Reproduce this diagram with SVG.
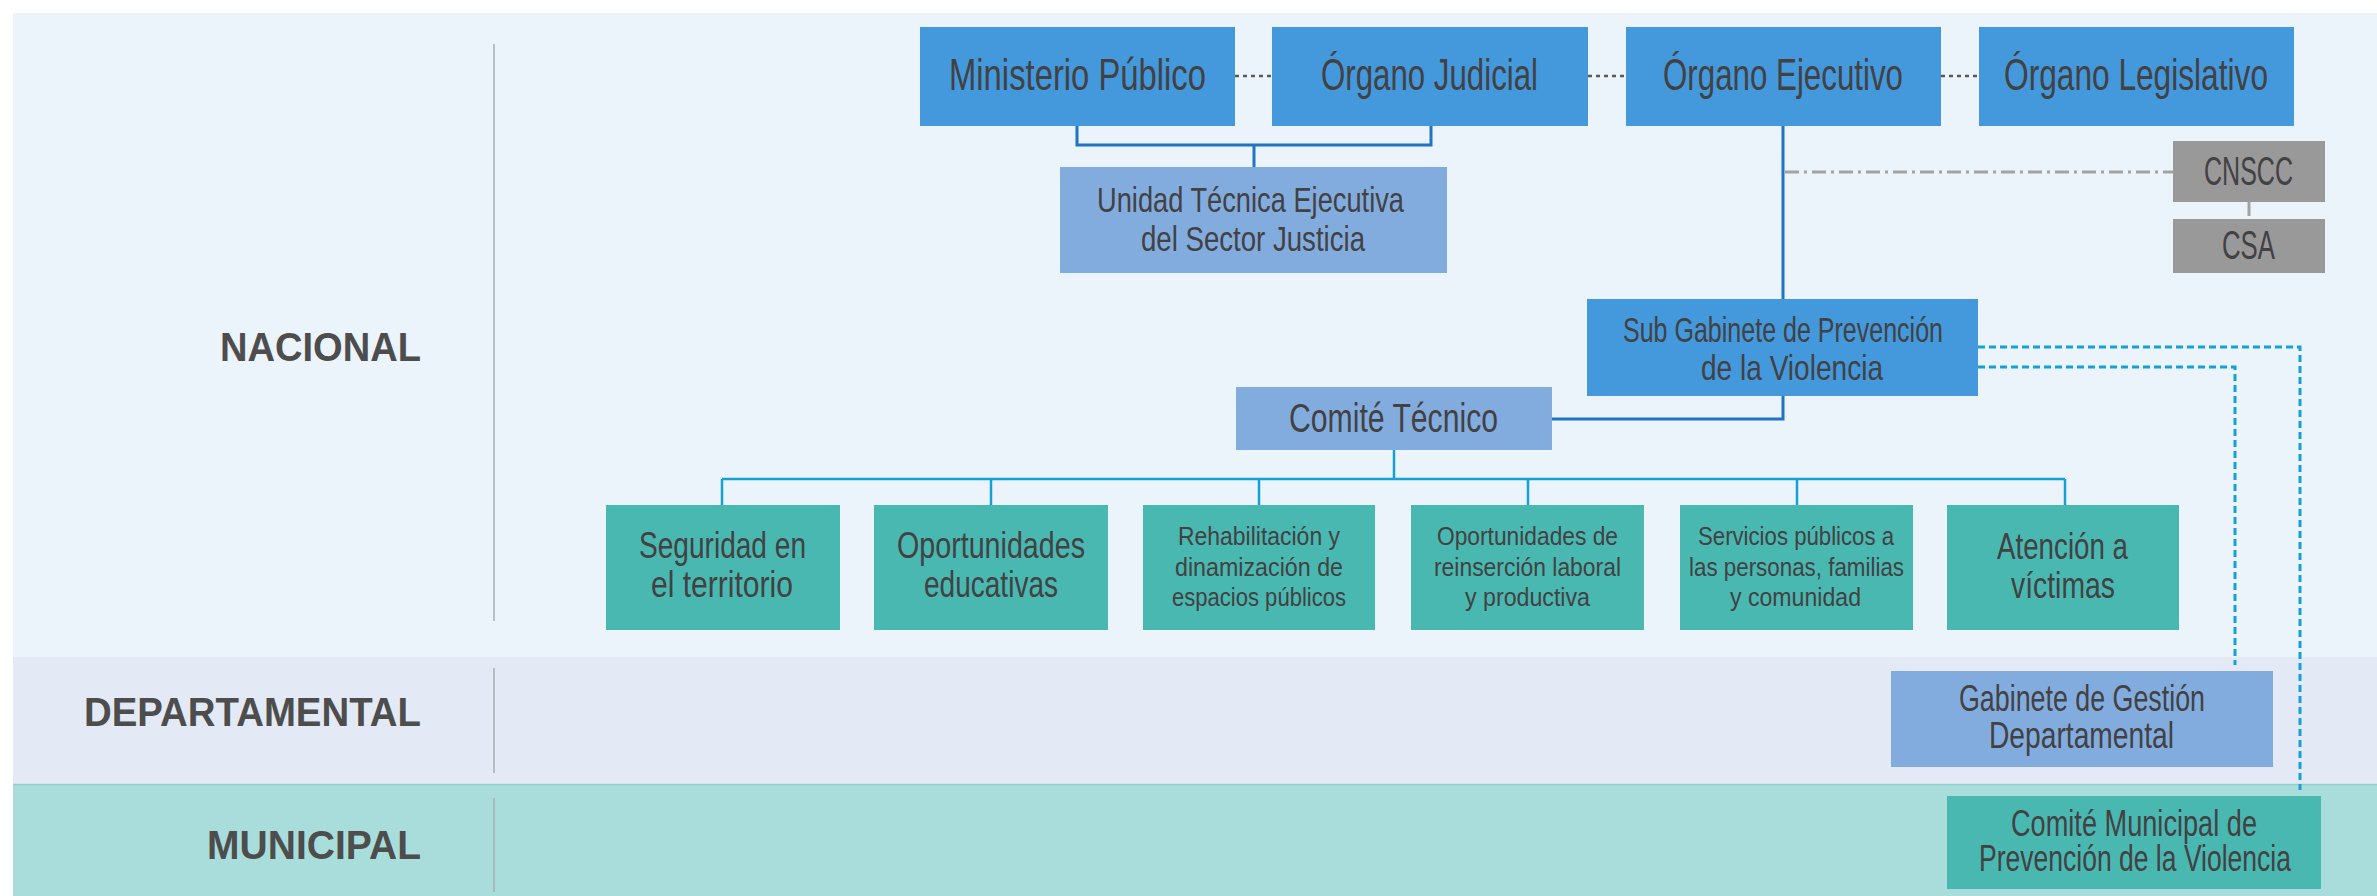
<svg xmlns="http://www.w3.org/2000/svg" width="2377" height="896" viewBox="0 0 2377 896">
<style>
.t{font-family:"Liberation Sans",Arial,sans-serif;fill:#424143;}
.s{font-size:26.5px;}
.lbl{font-family:"Liberation Sans",Arial,sans-serif;font-weight:bold;fill:#4D4D4D;font-size:40px;}
.b1{fill:#4399DB;}
.b2{fill:#83ACDE;}
.b3{fill:#49B8B1;}
.b4{fill:#999999;}
.div{stroke:#A7AEB5;stroke-width:1.5;fill:none;}
.dk{stroke:#1F74C6;stroke-width:3;fill:none;}
.cy{stroke:#15A1D3;stroke-width:2.5;fill:none;}
.dot{stroke:#5A5A5A;stroke-width:2.5;stroke-dasharray:4 4;fill:none;}
.dd{stroke:#A3A3A3;stroke-width:3;stroke-dasharray:14 5 3 5;fill:none;}
.cyd{stroke:#15A1D3;stroke-width:3;stroke-dasharray:7 4;fill:none;}
</style>
<rect width="2377" height="896" fill="#FFFFFF"/>
<g id="bands">
<rect x="13" y="13" width="2364" height="644" fill="#EBF3FB"/>
<rect x="13" y="657" width="2364" height="127" fill="#E3EAF5"/>
<rect x="13" y="784" width="2364" height="112" fill="#A8DDDB"/>
<line x1="13" y1="784.5" x2="2377" y2="784.5" stroke="#8FD0CC" stroke-width="1.5"/>
<line class="div" x1="494" y1="44" x2="494" y2="621"/>
<line class="div" x1="494" y1="668" x2="494" y2="773"/>
<line class="div" x1="494" y1="798" x2="494" y2="892"/>
<text class="lbl" x="220" y="361" textLength="201" lengthAdjust="spacingAndGlyphs">NACIONAL</text>
<text class="lbl" x="84" y="726" textLength="337" lengthAdjust="spacingAndGlyphs">DEPARTAMENTAL</text>
<text class="lbl" x="207" y="859" textLength="214" lengthAdjust="spacingAndGlyphs">MUNICIPAL</text>
</g>
<g id="connectors">
<path class="dot" d="M1235 76H1272M1588 76H1626M1941 76H1979"/>
<path class="dk" d="M1077 126V145H1431V126"/>
<path class="dk" stroke-width="2.5" d="M1254 145V167"/>
<path class="dk" stroke-width="2.5" d="M1783 126V299"/>
<path class="dd" d="M1785 172H2173"/>
<path class="dd" stroke-width="2.5" d="M2249 202V219"/>
<path class="dk" d="M1783 396V419H1552"/>
<path class="cy" d="M1394 450V479"/>
<path class="cy" stroke-width="3.5" d="M722 479H2065"/>
<path class="cy" d="M722 479V505M991 479V505M1259 479V505M1528 479V505M1797 479V505M2065 479V505"/>
<path class="cyd" d="M1978 347H2300V790"/>
<path class="cyd" d="M1978 367H2235V665"/>
</g>
<g id="ministerio-publico">
<rect class="b1" x="920" y="27" width="315" height="99"/>
<text class="t" x="949" y="90" font-size="44" textLength="257" lengthAdjust="spacingAndGlyphs">Ministerio Público</text>
</g>
<g id="organo-judicial">
<rect class="b1" x="1272" y="27" width="316" height="99"/>
<text class="t" x="1321" y="90" font-size="44" textLength="217" lengthAdjust="spacingAndGlyphs">Órgano Judicial</text>
</g>
<g id="organo-ejecutivo">
<rect class="b1" x="1626" y="27" width="315" height="99"/>
<text class="t" x="1663" y="90" font-size="44" textLength="240" lengthAdjust="spacingAndGlyphs">Órgano Ejecutivo</text>
</g>
<g id="organo-legislativo">
<rect class="b1" x="1979" y="27" width="315" height="99"/>
<text class="t" x="2004" y="90" font-size="44" textLength="264" lengthAdjust="spacingAndGlyphs">Órgano Legislativo</text>
</g>
<g id="unidad-tecnica">
<rect class="b2" x="1060" y="167" width="387" height="106"/>
<text class="t" x="1097" y="212" font-size="35" textLength="307" lengthAdjust="spacingAndGlyphs">Unidad Técnica Ejecutiva</text>
<text class="t" x="1141" y="251" font-size="35" textLength="224" lengthAdjust="spacingAndGlyphs">del Sector Justicia</text>
</g>
<g id="cnscc">
<rect class="b4" x="2173" y="141" width="152" height="61"/>
<text class="t" x="2204" y="185" font-size="41" textLength="89" lengthAdjust="spacingAndGlyphs">CNSCC</text>
</g>
<g id="csa">
<rect class="b4" x="2173" y="219" width="152" height="54"/>
<text class="t" x="2222" y="259" font-size="41" textLength="53" lengthAdjust="spacingAndGlyphs">CSA</text>
</g>
<g id="sub-gabinete">
<rect class="b1" x="1587" y="299" width="391" height="97"/>
<text class="t" x="1623" y="342" font-size="35" textLength="320" lengthAdjust="spacingAndGlyphs">Sub Gabinete de Prevención</text>
<text class="t" x="1701" y="380" font-size="35" textLength="182" lengthAdjust="spacingAndGlyphs">de la Violencia</text>
</g>
<g id="comite-tecnico">
<rect class="b2" x="1236" y="387" width="316" height="63"/>
<text class="t" x="1289" y="432" font-size="41" textLength="209" lengthAdjust="spacingAndGlyphs">Comité Técnico</text>
</g>
<g id="seguridad">
<rect class="b3" x="606" y="505" width="234" height="125"/>
<text class="t" x="639" y="558" font-size="36" textLength="167" lengthAdjust="spacingAndGlyphs">Seguridad en</text>
<text class="t" x="651" y="597" font-size="36" textLength="142" lengthAdjust="spacingAndGlyphs">el territorio</text>
</g>
<g id="oportunidades-educativas">
<rect class="b3" x="874" y="505" width="234" height="125"/>
<text class="t" x="897" y="558" font-size="36" textLength="188" lengthAdjust="spacingAndGlyphs">Oportunidades</text>
<text class="t" x="924" y="597" font-size="36" textLength="134" lengthAdjust="spacingAndGlyphs">educativas</text>
</g>
<g id="rehabilitacion">
<rect class="b3" x="1143" y="505" width="232" height="125"/>
<text class="t s" x="1178" y="545" textLength="162" lengthAdjust="spacingAndGlyphs">Rehabilitación y</text>
<text class="t s" x="1175" y="576" textLength="168" lengthAdjust="spacingAndGlyphs">dinamización de</text>
<text class="t s" x="1172" y="606" textLength="174" lengthAdjust="spacingAndGlyphs">espacios públicos</text>
</g>
<g id="reinsercion">
<rect class="b3" x="1411" y="505" width="233" height="125"/>
<text class="t s" x="1437" y="545" textLength="181" lengthAdjust="spacingAndGlyphs">Oportunidades de</text>
<text class="t s" x="1434" y="576" textLength="187" lengthAdjust="spacingAndGlyphs">reinserción laboral</text>
<text class="t s" x="1465" y="606" textLength="125" lengthAdjust="spacingAndGlyphs">y productiva</text>
</g>
<g id="servicios">
<rect class="b3" x="1680" y="505" width="233" height="125"/>
<text class="t s" x="1698" y="545" textLength="196" lengthAdjust="spacingAndGlyphs">Servicios públicos a</text>
<text class="t s" x="1689" y="576" textLength="215" lengthAdjust="spacingAndGlyphs">las personas, familias</text>
<text class="t s" x="1730" y="606" textLength="131" lengthAdjust="spacingAndGlyphs">y comunidad</text>
</g>
<g id="atencion">
<rect class="b3" x="1947" y="505" width="232" height="125"/>
<text class="t" x="1997" y="559" font-size="37" textLength="131" lengthAdjust="spacingAndGlyphs">Atención a</text>
<text class="t" x="2011" y="598" font-size="37" textLength="104" lengthAdjust="spacingAndGlyphs">víctimas</text>
</g>
<g id="gabinete-departamental">
<rect class="b2" x="1891" y="671" width="382" height="96"/>
<text class="t" x="1959" y="711" font-size="36" textLength="246" lengthAdjust="spacingAndGlyphs">Gabinete de Gestión</text>
<text class="t" x="1989" y="748" font-size="36" textLength="185" lengthAdjust="spacingAndGlyphs">Departamental</text>
</g>
<g id="comite-municipal">
<rect class="b3" x="1947" y="796" width="374" height="93"/>
<text class="t" x="2011" y="836" font-size="36" textLength="246" lengthAdjust="spacingAndGlyphs">Comité Municipal de</text>
<text class="t" x="1979" y="871" font-size="36" textLength="312" lengthAdjust="spacingAndGlyphs">Prevención de la Violencia</text>
</g>
</svg>
